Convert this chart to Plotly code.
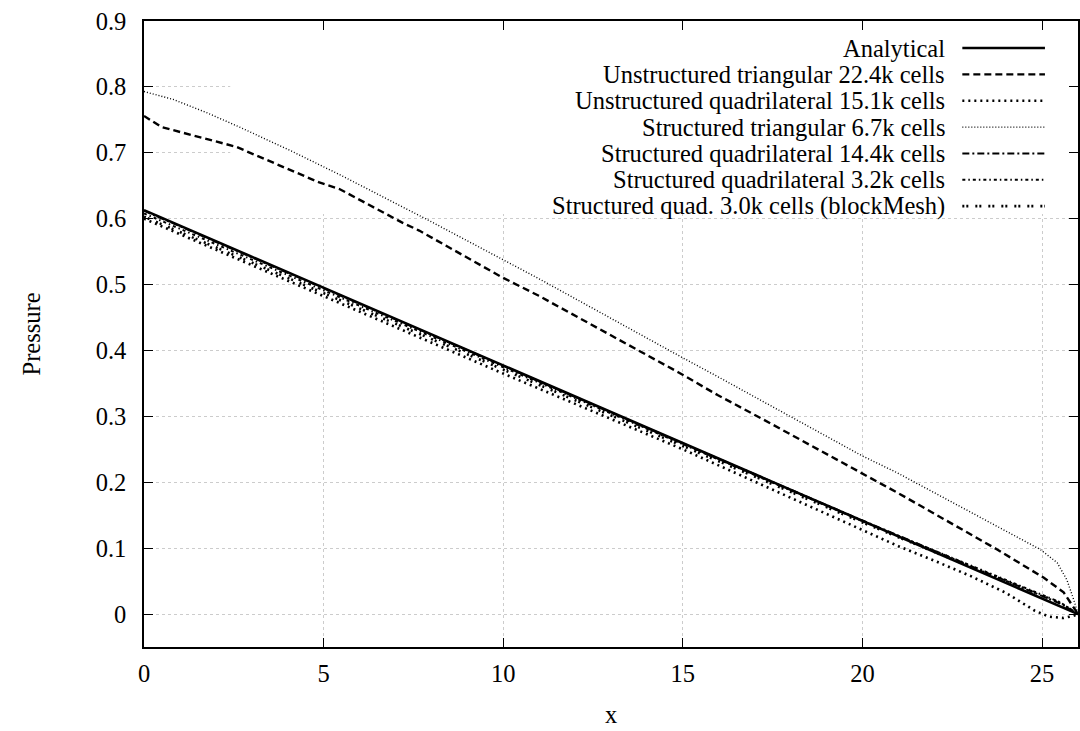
import plotly.graph_objects as go

# ---------------- data ----------------
x_analytical = [0, 26]
y_analytical = [0.613, 0.0]

x_utri = [0, 0.49, 2.57, 4.88, 5.44, 7.19, 7.66, 9.97, 10.99, 12.65, 13.76, 14.87, 15.98, 17.18, 20.98, 23.75, 25.05, 25.6, 26.0]
y_utri = [0.756, 0.739, 0.709, 0.655, 0.645, 0.594, 0.582, 0.511, 0.483, 0.433, 0.400, 0.367, 0.332, 0.297, 0.184, 0.098, 0.055, 0.033, 0.0]

x_uquad = [0, 5, 10, 15, 20, 21, 22, 23, 24, 24.8, 25.2, 25.6, 25.85, 26.0]
y_uquad = [0.600, 0.482, 0.365, 0.250, 0.128, 0.103, 0.081, 0.058, 0.032, 0.005, -0.004, -0.006, -0.003, 0.0]

x_stri = [0, 0.81, 1.74, 2.66, 4.05, 5.44, 7.94, 10.99, 14.96, 15.98, 19.96, 20.98, 23.75, 24.95, 25.42, 25.69, 25.88, 26.0]
y_stri = [0.793, 0.781, 0.761, 0.739, 0.704, 0.667, 0.597, 0.509, 0.390, 0.360, 0.241, 0.214, 0.133, 0.098, 0.078, 0.052, 0.022, 0.0]

x_squad14 = [0, 5, 10, 15, 20, 23, 24, 25, 25.5, 26.0]
y_squad14 = [0.612, 0.494, 0.377, 0.259, 0.142, 0.073, 0.050, 0.028, 0.016, 0.0]

x_squad3 = [0, 5, 10, 15, 20, 23, 24, 25, 25.5, 26.0]
y_squad3 = [0.608, 0.491, 0.374, 0.257, 0.141, 0.074, 0.052, 0.030, 0.018, 0.0]

x_block = [0, 5, 10, 15, 20, 23, 24, 25, 25.5, 26.0]
y_block = [0.603, 0.487, 0.370, 0.254, 0.139, 0.072, 0.050, 0.029, 0.017, 0.0]

names = [
    "Analytical",
    "Unstructured triangular 22.4k cells",
    "Unstructured quadrilateral 15.1k cells",
    "Structured triangular 6.7k cells",
    "Structured quadrilateral 14.4k cells",
    "Structured quadrilateral 3.2k cells",
    "Structured quad. 3.0k cells (blockMesh)",
]
xs = [x_analytical, x_utri, x_uquad, x_stri, x_squad14, x_squad3, x_block]
ys = [y_analytical, y_utri, y_uquad, y_stri, y_squad14, y_squad3, y_block]

x_ticks = [0, 5, 10, 15, 20, 25]
y_ticks = [0, 0.1, 0.2, 0.3, 0.4, 0.5, 0.6, 0.7, 0.8, 0.9]

# ---------------- styles ----------------
styles = [
    dict(dash="solid", width=2.6),
    dict(dash="7px,4px", width=2.4),
    dict(dash="2px,4px", width=2.6),
    dict(dash="1px,2px", width=1.4),
    dict(dash="7px,3px,2px,3px", width=2.0),
    dict(dash="3px,3px,1.5px,3px", width=2.0),
    dict(dash="2px,2px,2px,7px", width=2.6),
]

FONT = "Liberation Serif"
FS = 24.5

fig = go.Figure()
for n, x, y, st in zip(names, xs, ys, styles):
    fig.add_trace(go.Scatter(x=x, y=y, mode="lines", name=n, showlegend=False,
                             line=dict(color="black", width=st["width"], dash=st["dash"])))

# opaque key box (covers grid, under curves)
fig.add_shape(type="rect", xref="x", yref="y", x0=2.4, x1=26, y0=0.607, y1=0.9,
              fillcolor="white", line=dict(width=0), layer="between")

# manual gnuplot-style key: text right-aligned, sample to the right
key_text_x = 22.36
key_s0, key_s1 = 22.78, 25.08
key_y0, key_dy = 0.859, 0.0400
for i, (n, st) in enumerate(zip(names, styles)):
    yy = key_y0 - i * key_dy
    fig.add_annotation(x=key_text_x, y=yy, xref="x", yref="y", text=n, showarrow=False,
                       xanchor="right", yanchor="middle",
                       font=dict(family=FONT, size=FS, color="black"))
    fig.add_shape(type="line", xref="x", yref="y", x0=key_s0, x1=key_s1, y0=yy, y1=yy,
                  line=dict(color="black", width=st["width"], dash=st["dash"]), layer="above")

axis_common = dict(
    showline=True, linecolor="black", linewidth=1.5, mirror="ticks",
    ticks="inside", ticklen=9, tickwidth=1, tickcolor="black",
    showgrid=True, gridcolor="#cccccc", gridwidth=1, griddash="dot",
    zeroline=False,
    tickfont=dict(family=FONT, size=FS, color="black"),
)

fig.update_layout(
    width=1080, height=731,
    margin=dict(l=144, r=0, t=21, b=84),
    plot_bgcolor="white", paper_bgcolor="white",
    font=dict(family=FONT, size=FS, color="black"),
    xaxis=dict(range=[0, 26], tickvals=x_ticks, ticktext=[str(v) for v in x_ticks],
               ticklabelstandoff=4,
               title=dict(text="x", font=dict(family=FONT, size=FS), standoff=20),
               **axis_common),
    yaxis=dict(range=[-0.05, 0.9], tickvals=y_ticks, ticktext=[("0" if v == 0 else f"{v:.1f}") for v in y_ticks],
               ticklabelstandoff=11,
               title=dict(text="Pressure", font=dict(family=FONT, size=FS), standoff=48),
               **axis_common),
)

fig.write_html("out.html")
